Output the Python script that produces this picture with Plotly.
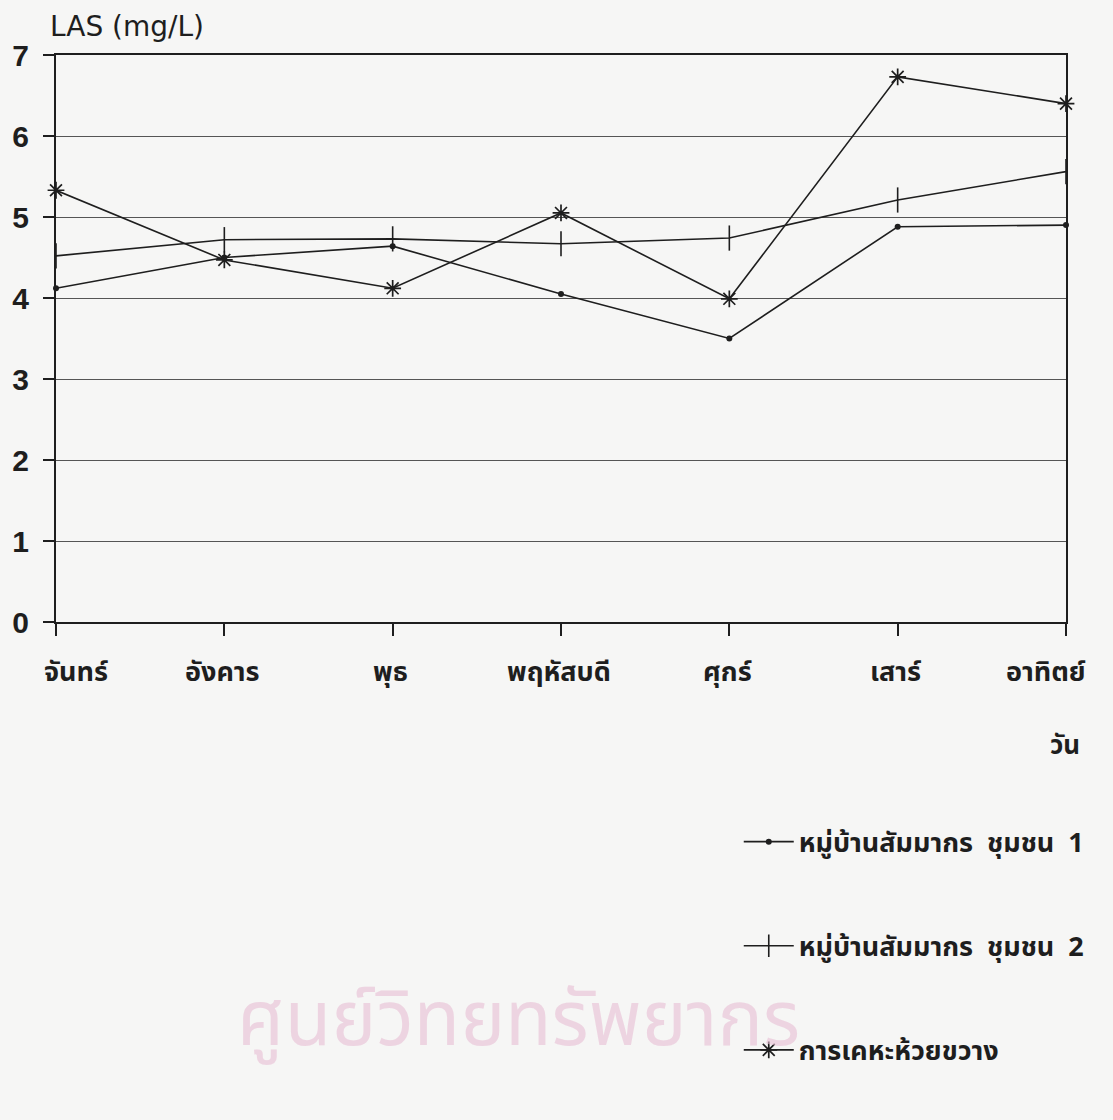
import plotly.graph_objects as go

# Days of the week (x categories)
days = ["จันทร์", "อังคาร", "พุธ", "พฤหัสบดี", "ศุกร์", "เสาร์", "อาทิตย์"]

# LAS concentration (mg/L) per sampling site
community_1 = [4.12, 4.50, 4.64, 4.05, 3.50, 4.88, 4.90]
community_2 = [4.52, 4.72, 4.73, 4.67, 4.74, 5.21, 5.56]
housing_hk = [5.33, 4.47, 4.12, 5.05, 3.99, 6.73, 6.40]

series_names = [
    "หมู่บ้านสัมมากร  ชุมชน  1",
    "หมู่บ้านสัมมากร  ชุมชน  2",
    "การเคหะห้วยขวาง",
]

y_ticks = [0, 1, 2, 3, 4, 5, 6, 7]

INK = "#1e1e1e"
GRID = "#555555"
BG = "#f6f6f5"
THAI = "Noto Sans Thai, Noto Sans Thai UI, Noto Sans, sans-serif"
LATIN = "Liberation Sans, Arial, sans-serif"

fig = go.Figure()

styles = [
    dict(symbol="circle", size=6, line=dict(width=0, color=INK)),
    dict(symbol="line-ns", size=18, line=dict(width=1.6, color=INK)),
    dict(symbol="asterisk", size=14, line=dict(width=1.7, color=INK)),
]

for i, (name, vals) in enumerate(zip(series_names, [community_1, community_2, housing_hk])):
    fig.add_trace(go.Scatter(
        x=days, y=vals, name=name, mode="lines+markers",
        line=dict(color=INK, width=1.6),
        marker=dict(color=INK, **styles[i]),
        legendgroup=f"g{i}",
        cliponaxis=False,
    ))

annotations = []

# Background watermark text (drawn first so it sits under everything else)
annotations.append(dict(
    x=0.458, y=-0.705, xref="paper", yref="paper", text="ศูนย์วิทยทรัพยากร",
    showarrow=False, xanchor="center", yanchor="middle",
    font=dict(family=THAI, size=76, color="rgba(232,190,212,0.6)"),
))

# Day labels under the x axis
shifts = [20, -2, -2, -2, -2, -2, -20]
for d, s in zip(days, shifts):
    annotations.append(dict(
        x=d, y=0, xref="x", yref="paper", text=f"<b>{d}</b>",
        showarrow=False, xanchor="center", yanchor="middle",
        xshift=s, yshift=-50,
        font=dict(family=THAI, size=27, color=INK),
    ))

# Axis titles
annotations.append(dict(
    x=0, y=1, xref="paper", yref="paper", text="LAS (mg/L)",
    showarrow=False, xanchor="left", yanchor="bottom", xshift=-8, yshift=10,
    font=dict(family="DejaVu Sans, sans-serif", size=28, color=INK),
))
annotations.append(dict(
    x=1, y=0, xref="paper", yref="paper", text="<b>วัน</b>",
    showarrow=False, xanchor="right", yanchor="middle", xshift=16, yshift=-124,
    font=dict(family=THAI, size=26, color=INK),
))

fig.update_layout(
    width=1113, height=1120,
    margin=dict(l=49, r=47, t=55, b=498),
    paper_bgcolor=BG, plot_bgcolor=BG,
    showlegend=True,
    legend=dict(
        x=0.676, y=-0.345, xanchor="left", yanchor="top",
        xref="paper", yref="paper",
        bgcolor="rgba(0,0,0,0)",
        font=dict(family=THAI, size=27, color=INK, weight="bold"),
        traceorder="grouped", tracegroupgap=66, itemwidth=50,
    ),
    annotations=annotations,
    xaxis=dict(
        type="category", range=[0, 6],
        showgrid=False, zeroline=False,
        showline=True, linecolor=INK, linewidth=2, mirror=True,
        ticks="outside", ticklen=12, tickwidth=1.5, tickcolor=INK,
        showticklabels=False,
    ),
    yaxis=dict(
        range=[0, 7], tickvals=y_ticks,
        showgrid=True, gridcolor=GRID, gridwidth=1.4,
        zeroline=False,
        showline=True, linecolor=INK, linewidth=2, mirror=True,
        ticks="outside", ticklen=11, tickwidth=1.5, tickcolor=INK,
        ticklabelstandoff=8,
        tickfont=dict(family=LATIN, size=30, color=INK, weight="bold"),
    ),
)

fig.write_html("out.html")
